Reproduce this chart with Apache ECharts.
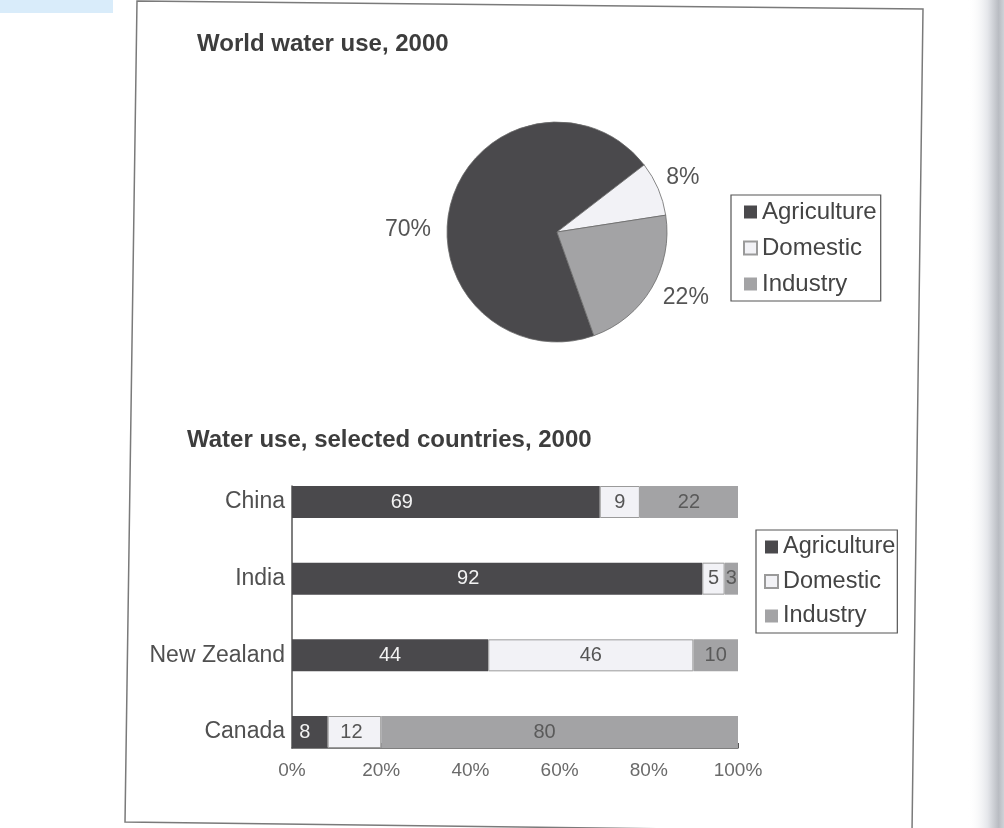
<!DOCTYPE html>
<html>
<head>
<meta charset="utf-8">
<script src="https://cdn.jsdelivr.net/npm/echarts@6/dist/echarts.min.js"></script>
<style>
  html, body { margin: 0; padding: 0; background: #ffffff; }
  #chart { width: 1004px; height: 828px; }
</style>
</head>
<body>
<div id="chart"></div>
<script>
// ---- data ----
const useTypes = ['Agriculture', 'Domestic', 'Industry'];
const worldShare = [70, 8, 22];
const countries = ['China', 'India', 'New Zealand', 'Canada'];
const agriculture = [69, 92, 44, 8];
const domestic = [9, 5, 46, 12];
const industry = [22, 3, 10, 80];

// ---- styling ----
const FONT = 'Liberation Sans, Arial, sans-serif';
const colors = { Agriculture: '#4a494c', Domestic: '#f2f2f6', Industry: '#a3a3a5' };
const labelColors = { Agriculture: '#f2f2f2', Domestic: '#555555', Industry: '#5a5a5a' };
// small horizontal nudges of the in-bar value labels, as in the original print
const labelNudge = { Agriculture: [-44, -29, 0, -5], Domestic: [0, 0, 0, -3], Industry: [0, 0, 0, -15] };
// nudges of the pie's percentage labels
const pieLabelNudge = [[-4, 32], [-8, -6], [-4, 3]];

const chart = echarts.init(document.getElementById('chart'), null, { renderer: 'canvas' });

function barSeries(name, values) {
  return {
    name: name,
    type: 'bar',
    stack: 'total',
    xAxisIndex: 0,
    yAxisIndex: 0,
    barWidth: 32,
    itemStyle: {
      color: colors[name],
      borderColor: name === 'Domestic' ? '#9a9a9a' : colors[name],
      borderWidth: name === 'Domestic' ? 1 : 0
    },
    label: {
      show: true,
      position: 'inside',
      fontFamily: FONT,
      fontSize: 20,
      color: labelColors[name]
    },
    data: values.map((v, i) => ({
      value: v,
      label: { offset: [labelNudge[name][i], 0] }
    }))
  };
}

const legendCommon = {
  orient: 'vertical',
  icon: 'rect',
  itemWidth: 13,
  itemHeight: 13,
  selectedMode: false,
  borderColor: '#555',
  borderWidth: 1.2,
  data: useTypes
};

const option = {
  backgroundColor: '#ffffff',
  animation: false,
  title: [
    {
      text: 'World water use, 2000',
      left: 197, top: 32, padding: 0,
      textStyle: { fontFamily: FONT, fontSize: 24, fontWeight: 'bold', color: '#3d3d3d' }
    },
    {
      text: 'Water use, selected countries, 2000',
      left: 187, top: 428, padding: 0,
      textStyle: { fontFamily: FONT, fontSize: 24, fontWeight: 'bold', color: '#3d3d3d' }
    }
  ],
  legend: [
    Object.assign({}, legendCommon, {
      left: 731, top: 195, itemGap: 12, padding: [5, 4, 5, 12],
      textStyle: { fontFamily: FONT, fontSize: 24, color: '#444', lineHeight: 24 }
    }),
    Object.assign({}, legendCommon, {
      left: 756, top: 530, itemGap: 10.5, padding: [5, 2, 5, 8],
      textStyle: { fontFamily: FONT, fontSize: 23.5, color: '#444', lineHeight: 24 }
    })
  ],
  grid: [
    { left: 292, right: 266, top: 502, height: 230 },
    { left: 292, right: 266, top: 486, height: 262 }
  ],
  xAxis: [
    { gridIndex: 0, type: 'value', min: 0, max: 100, show: false },
    {
      gridIndex: 1, type: 'value', min: 0, max: 100, interval: 20,
      axisLine: { show: true, lineStyle: { color: '#555', width: 1.5 } },
      axisTick: { show: true, inside: true, length: 5, lineStyle: { color: '#555' } },
      splitLine: { show: false },
      axisLabel: { fontFamily: FONT, fontSize: 19, color: '#6a6a6a', margin: 13, formatter: '{value}%' }
    }
  ],
  yAxis: [
    {
      gridIndex: 0, type: 'category', data: countries, inverse: true, boundaryGap: false,
      axisLine: { show: false }, axisTick: { show: false }, splitLine: { show: false },
      axisLabel: { fontFamily: FONT, fontSize: 23, color: '#505050', margin: 7 }
    },
    {
      gridIndex: 1, type: 'value', min: 0, max: 1,
      axisLine: { show: true, lineStyle: { color: '#555', width: 1.5 } },
      axisTick: { show: false }, axisLabel: { show: false }, splitLine: { show: false }
    }
  ],
  series: [
    {
      name: 'World water use',
      type: 'pie',
      center: [557, 232],
      radius: 110,
      startAngle: 289.6,
      clockwise: true,
      legendHoverLink: false,
      itemStyle: { borderColor: '#6a6a6a', borderWidth: 0.8 },
      label: {
        show: true,
        position: 'outside',
        formatter: '{c}%',
        fontFamily: FONT,
        fontSize: 23,
        color: '#555'
      },
      labelLine: { show: false, length: 12, length2: 0 },
      labelLayout: function (params) {
        const n = pieLabelNudge[params.dataIndex] || [0, 0];
        return { dx: n[0], dy: n[1] };
      },
      data: useTypes.map((n, i) => ({ name: n, value: worldShare[i], itemStyle: { color: colors[n] } }))
    },
    barSeries('Agriculture', agriculture),
    barSeries('Domestic', domestic),
    barSeries('Industry', industry)
  ],
  graphic: [
    { type: 'rect', silent: true, shape: { x: 0, y: 0, width: 113, height: 13 }, style: { fill: '#d9ecfa' } },
    {
      type: 'rect', silent: true, shape: { x: 968, y: 0, width: 36, height: 828 },
      style: {
        fill: new echarts.graphic.LinearGradient(0, 0, 1, 0, [
          { offset: 0, color: 'rgba(255,255,255,0)' },
          { offset: 0.55, color: '#e4e6ea' },
          { offset: 0.85, color: '#b9bcc2' },
          { offset: 1, color: '#cfd2d7' }
        ])
      }
    },
    {
      type: 'polygon', silent: true,
      shape: { points: [[137, 1], [923, 9], [912, 832], [125, 822]] },
      style: { fill: 'none', stroke: '#7a7a7a', lineWidth: 1.5 }
    }
  ]
};

chart.setOption(option);
</script>
</body>
</html>
